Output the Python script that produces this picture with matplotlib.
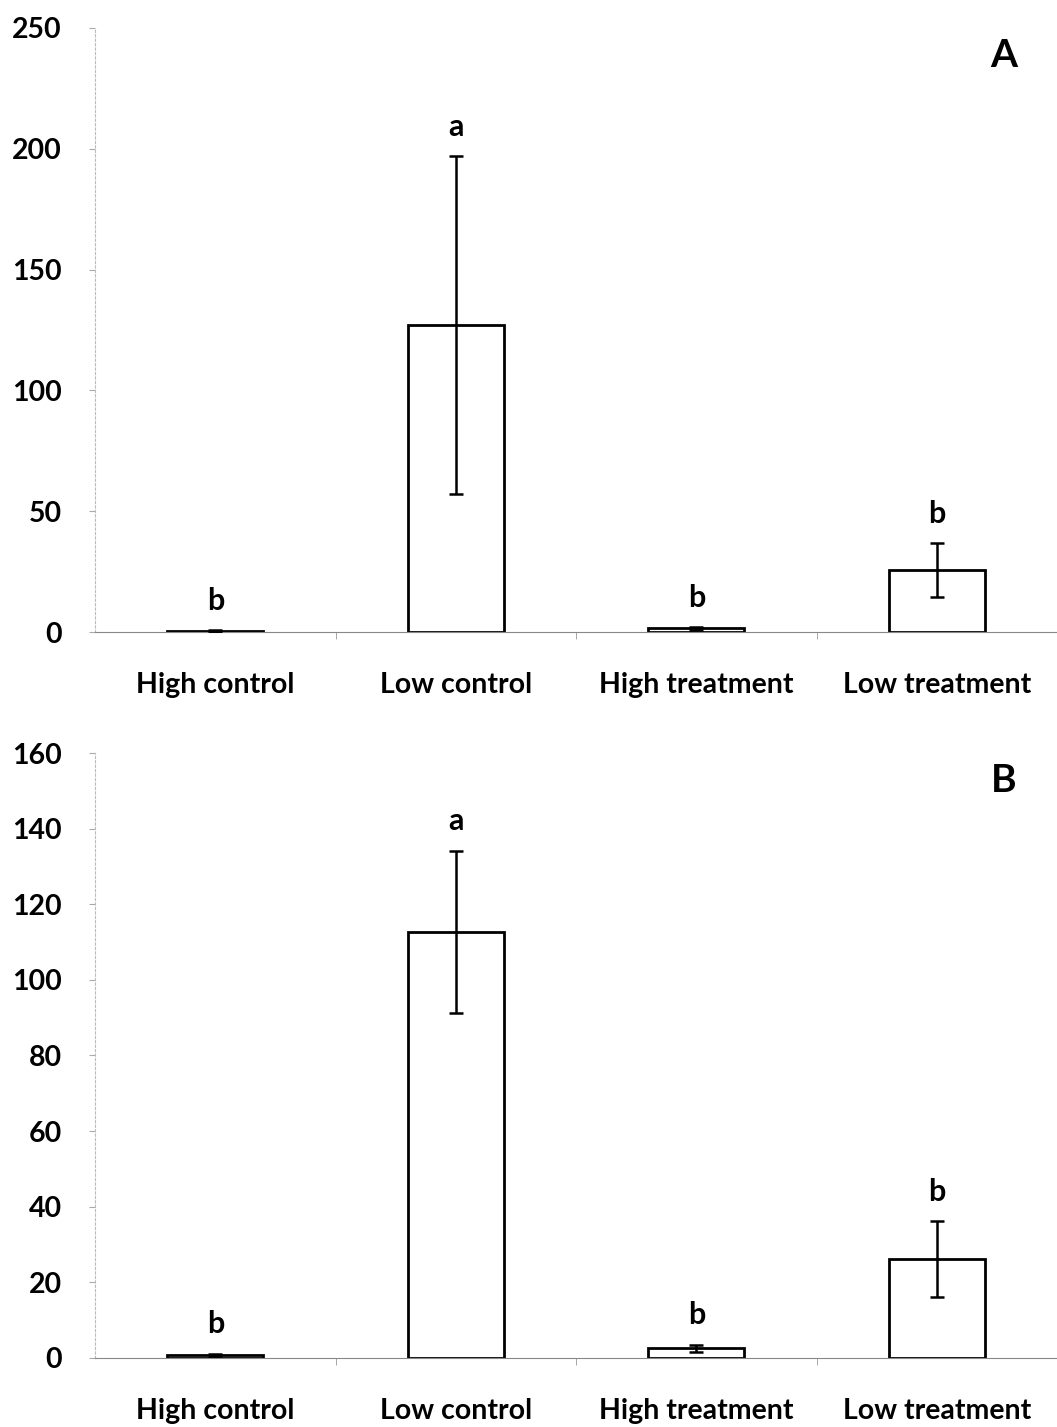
import numpy as np
from matplotlib import pyplot as plt

groups = ['High control', 'Low control', 'High treatment', 'Low treatment']

means_a = [0.5, 127, 1.5, 25.7]
err_a = [0.3, 70, 0.5, 11.2]
letters_a = ['b', 'a', 'b', 'b']

means_b = [0.8, 112.7, 2.6, 26.2]
err_b = [0.3, 21.5, 0.9, 10]
letters_b = ['b', 'a', 'b', 'b']

plt.rcParams['font.family'] = ['Lato', 'DejaVu Sans']

fig = plt.figure(figsize=(10.57, 14.27), dpi=100)
ax_a = fig.add_axes([0.0899, 0.5571, 0.9101, 0.4233])
ax_b = fig.add_axes([0.0899, 0.0484, 0.9101, 0.4239])


def panel(ax, means, errs, letters, ymax, step, tag):
    x = np.arange(len(groups))
    ax.bar(x, means, width=0.4, color='white', edgecolor='black', linewidth=2, zorder=2)
    ax.errorbar(x, means, yerr=errs, fmt='none', ecolor='black', elinewidth=1.8,
                capsize=5, capthick=1.8, zorder=3)
    for xi, m, e, lt in zip(x, means, errs, letters):
        ax.annotate(lt, (xi, m + e), xytext=(0, 11), textcoords='offset points',
                    ha='center', va='bottom', fontsize=22, fontweight='bold')
    ax.set_xlim(-0.5, 3.5)
    ax.set_ylim(0, ymax)
    ax.set_yticks(np.arange(0, ymax + 1, step))
    ax.set_xticks(x)
    ax.set_xticklabels(groups)
    ax.set_xticks([0.5, 1.5, 2.5], minor=True)
    ax.tick_params(axis='x', which='major', length=0, pad=29, labelsize=20.5)
    ax.tick_params(axis='x', which='minor', length=5, color='#999999', direction='out')
    ax.tick_params(axis='y', length=4, color='#aaaaaa', labelsize=20.5, pad=20)
    for lab in ax.get_xticklabels() + ax.get_yticklabels():
        lab.set_fontweight('bold')
    for s in ['top', 'right']:
        ax.spines[s].set_visible(False)
    ax.spines['bottom'].set_color('#888888')
    ax.spines['bottom'].set_linestyle((0, (2, 1)))
    ax.spines['left'].set_color('#bbbbbb')
    ax.spines['left'].set_linestyle((0, (2, 2)))
    ax.spines['left'].set_linewidth(0.8)
    ax.text(0.945, 0.955, tag, transform=ax.transAxes, ha='center', va='center',
            fontsize=28, fontweight='bold')


panel(ax_a, means_a, err_a, letters_a, 250, 50, 'A')
panel(ax_b, means_b, err_b, letters_b, 160, 20, 'B')

fig.savefig('out.png', dpi=100)
